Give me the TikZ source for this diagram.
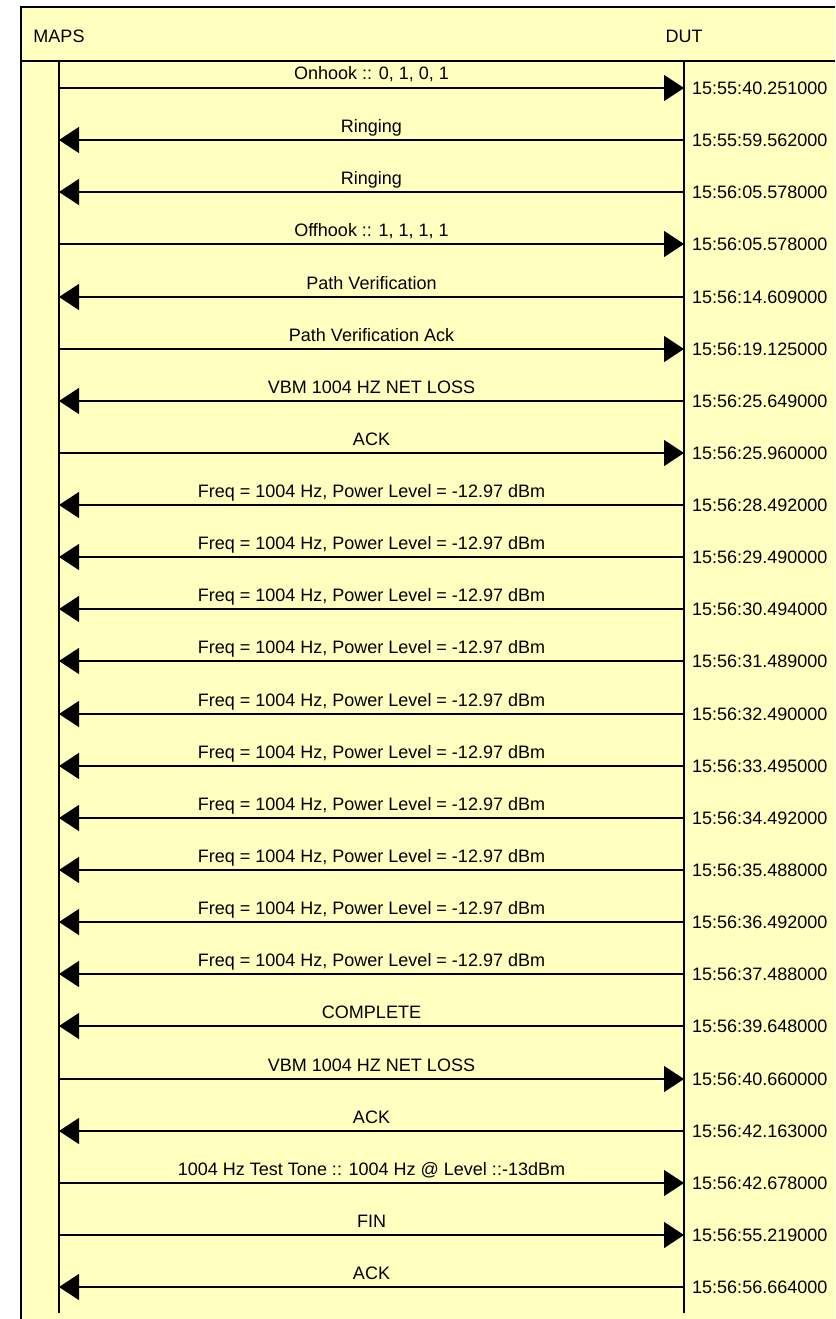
\documentclass[tikz,border=0pt]{standalone}
\usepackage{fontspec}
\setmainfont{Liberation Sans}
\usetikzlibrary{arrows.meta}
\definecolor{paleyellow}{RGB}{255,255,192}
\tikzset{
  head/.style={anchor=base,inner sep=0pt,font=\fontsize{18}{20}\selectfont},
  msg/.style={anchor=base,yshift=8pt,inner sep=0pt,font=\fontsize{18}{20}\selectfont},
  stamp/.style={anchor=west,inner sep=0pt,font=\fontsize{18}{20}\selectfont},
  life/.style={line width=1.2pt},
  sig/.style={line width=1.2pt,-{Triangle[length=20pt,width=26pt]}}
}
\begin{document}
\begin{tikzpicture}[x=1pt,y=1pt]
\useasboundingbox (0,0) rectangle (835,-1319);
% panel
\fill[paleyellow] (21,-7) rectangle (835,-1319);
\draw[line width=2pt] (21,-1319) -- (21,-7) -- (835,-7);
\draw[line width=2.5pt] (21,-61) -- (835,-61);
% header
\node[head] (maps) at (59,-43) {MAPS};
\node[head] (dut) at (684,-43) {DUT};
\coordinate (top) at (0,-62);
\coordinate (bot) at (0,-1313);
\draw[life] (maps |- top) -- (maps |- bot);
\draw[life] (dut |- top) -- (dut |- bot);
% messages
\node[stamp] (t1) at (692,-88) {15:55:40.251000};
\draw[sig] (maps |- t1.west) -- node[msg] (l1) {Onhook :: 0, 1, 0, 1} (dut |- t1.west);
\node[stamp] (t2) at (692,-140) {15:55:59.562000};
\draw[sig] (dut |- t2.west) -- node[msg] (l2) {Ringing} (maps |- t2.west);
\node[stamp] (t3) at (692,-192) {15:56:05.578000};
\draw[sig] (dut |- t3.west) -- node[msg] (l3) {Ringing} (maps |- t3.west);
\node[stamp] (t4) at (692,-244) {15:56:05.578000};
\draw[sig] (maps |- t4.west) -- node[msg] (l4) {Offhook :: 1, 1, 1, 1} (dut |- t4.west);
\node[stamp] (t5) at (692,-297) {15:56:14.609000};
\draw[sig] (dut |- t5.west) -- node[msg] (l5) {Path Verification} (maps |- t5.west);
\node[stamp] (t6) at (692,-349) {15:56:19.125000};
\draw[sig] (maps |- t6.west) -- node[msg] (l6) {Path Verification Ack} (dut |- t6.west);
\node[stamp] (t7) at (692,-401) {15:56:25.649000};
\draw[sig] (dut |- t7.west) -- node[msg] (l7) {VBM 1004 HZ NET LOSS} (maps |- t7.west);
\node[stamp] (t8) at (692,-453) {15:56:25.960000};
\draw[sig] (maps |- t8.west) -- node[msg] (l8) {ACK} (dut |- t8.west);
\node[stamp] (t9) at (692,-505) {15:56:28.492000};
\draw[sig] (dut |- t9.west) -- node[msg] (l9) {Freq = 1004 Hz, Power Level = -12.97 dBm} (maps |- t9.west);
\node[stamp] (t10) at (692,-557) {15:56:29.490000};
\draw[sig] (dut |- t10.west) -- node[msg] (l10) {Freq = 1004 Hz, Power Level = -12.97 dBm} (maps |- t10.west);
\node[stamp] (t11) at (692,-609) {15:56:30.494000};
\draw[sig] (dut |- t11.west) -- node[msg] (l11) {Freq = 1004 Hz, Power Level = -12.97 dBm} (maps |- t11.west);
\node[stamp] (t12) at (692,-661) {15:56:31.489000};
\draw[sig] (dut |- t12.west) -- node[msg] (l12) {Freq = 1004 Hz, Power Level = -12.97 dBm} (maps |- t12.west);
\node[stamp] (t13) at (692,-714) {15:56:32.490000};
\draw[sig] (dut |- t13.west) -- node[msg] (l13) {Freq = 1004 Hz, Power Level = -12.97 dBm} (maps |- t13.west);
\node[stamp] (t14) at (692,-766) {15:56:33.495000};
\draw[sig] (dut |- t14.west) -- node[msg] (l14) {Freq = 1004 Hz, Power Level = -12.97 dBm} (maps |- t14.west);
\node[stamp] (t15) at (692,-818) {15:56:34.492000};
\draw[sig] (dut |- t15.west) -- node[msg] (l15) {Freq = 1004 Hz, Power Level = -12.97 dBm} (maps |- t15.west);
\node[stamp] (t16) at (692,-870) {15:56:35.488000};
\draw[sig] (dut |- t16.west) -- node[msg] (l16) {Freq = 1004 Hz, Power Level = -12.97 dBm} (maps |- t16.west);
\node[stamp] (t17) at (692,-922) {15:56:36.492000};
\draw[sig] (dut |- t17.west) -- node[msg] (l17) {Freq = 1004 Hz, Power Level = -12.97 dBm} (maps |- t17.west);
\node[stamp] (t18) at (692,-974) {15:56:37.488000};
\draw[sig] (dut |- t18.west) -- node[msg] (l18) {Freq = 1004 Hz, Power Level = -12.97 dBm} (maps |- t18.west);
\node[stamp] (t19) at (692,-1026) {15:56:39.648000};
\draw[sig] (dut |- t19.west) -- node[msg] (l19) {COMPLETE} (maps |- t19.west);
\node[stamp] (t20) at (692,-1079) {15:56:40.660000};
\draw[sig] (maps |- t20.west) -- node[msg] (l20) {VBM 1004 HZ NET LOSS} (dut |- t20.west);
\node[stamp] (t21) at (692,-1131) {15:56:42.163000};
\draw[sig] (dut |- t21.west) -- node[msg] (l21) {ACK} (maps |- t21.west);
\node[stamp] (t22) at (692,-1183) {15:56:42.678000};
\draw[sig] (maps |- t22.west) -- node[msg] (l22) {1004 Hz Test Tone :: 1004 Hz @ Level ::-13dBm} (dut |- t22.west);
\node[stamp] (t23) at (692,-1235) {15:56:55.219000};
\draw[sig] (maps |- t23.west) -- node[msg] (l23) {FIN} (dut |- t23.west);
\node[stamp] (t24) at (692,-1287) {15:56:56.664000};
\draw[sig] (dut |- t24.west) -- node[msg] (l24) {ACK} (maps |- t24.west);
\end{tikzpicture}
\end{document}
